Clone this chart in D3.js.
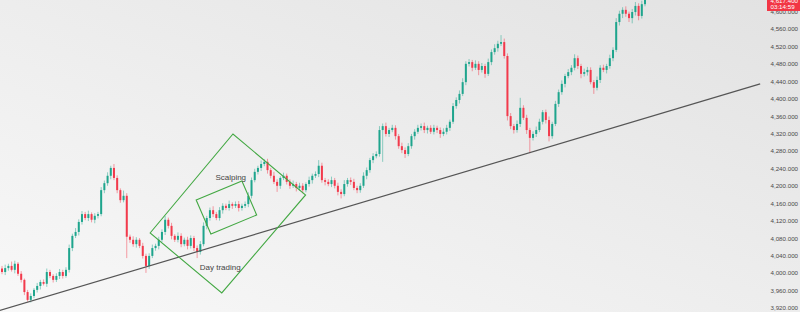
<!DOCTYPE html>
<meta charset="utf-8">
<style>
  body { margin: 0; background: #eee; }
  svg { display: block; font-family: "Liberation Sans", Arial, sans-serif; }
  .axis text { fill: #4a4a4a; font-size: 6.2px; }
  .note { fill: #444; font-size: 8px; }
  .box { fill: none; stroke: #43a843; stroke-width: 1.1; }
  .trend { stroke: #555; stroke-width: 1.2; }
</style>
<body>
<svg width="800" height="312"></svg>
<script src="https://d3js.org/d3.v7.min.js"></script>
<script>
// closing prices, one per candle (open = previous close)
var closes = [
  4002,4011,4016,4007,4021,3998,3984,3956,3938,3947,
  3961,3970,3979,3975,4002,3993,3984,3993,4002,3993,
  4007,4057,4085,4094,4117,4135,4126,4135,4122,4131,
  4135,4190,4206,4223,4241,4218,4190,4167,4177,4083,
  4076,4066,4076,4062,4039,4016,4039,4057,4062,4076,
  4094,4122,4108,4085,4076,4085,4066,4076,4062,4080,
  4057,4048,4066,4108,4126,4144,4135,4126,4144,4154,
  4149,4158,4154,4158,4149,4154,4158,4177,4213,4232,
  4241,4250,4255,4236,4223,4209,4200,4218,4223,4209,
  4200,4204,4195,4200,4190,4204,4213,4223,4227,4246,
  4213,4209,4204,4213,4200,4186,4181,4204,4213,4209,
  4195,4190,4200,4223,4236,4259,4268,4273,4328,4337,
  4319,4328,4333,4314,4291,4282,4273,4291,4314,4324,
  4333,4337,4328,4333,4324,4333,4328,4319,4324,4333,
  4347,4383,4397,4411,4438,4480,4484,4471,4480,4466,
  4475,4457,4484,4507,4516,4526,4530,4498,4360,4337,
  4328,4342,4379,4356,4328,4310,4319,4328,4347,4369,
  4351,4314,4342,4388,4415,4434,4452,4461,4471,4493,
  4475,4457,4461,4466,4438,4425,4443,4471,4466,4475,
  4493,4512,4576,4595,4604,4595,4585,4599,4613,4590,
  4617,4630
];
var firstOpen = 4010;

// wick lengths above / below the body, in points
var upWick = [
  6,8,5,10,7,4,6,3,5,6, 4,7,5,6,8,5,4,6,7,5, 6,8,5,9,6,7,5,8,4,6,
  5,7,6,8,5,9,6,4,12,6, 5,8,6,4,7,5,6,8,5,7, 6,9,5,7,4,8,6,5,7,6,
  5,6,7,8,5,6,9,5,7,6, 5,8,4,6,7,5,6,8,6,7, 5,8,6,7,5,9,6,4,7,5,
  6,8,5,7,6,4,8,5,6,13, 7,5,6,8,5,7,6,9,5,6, 7,5,6,8,6,5,7,6,9,6,
  8,5,7,6,5,8,6,7,5,6, 7,6,8,5,6,7,5,6,8,7, 5,7,6,8,9,6,7,5,8,6,
  7,5,8,6,9,7,16,8,6,7, 5,8,23,6,7,5,6,8,7,5, 6,8,5,7,6,8,5,7,6,9,
  6,5,8,7,6,5,8,6,7,5, 8,6,9,7,6,8,5,7,9,6, 8,6
];
var downWick = [
  5,7,6,4,8,5,6,7,4,6, 5,6,8,4,7,5,6,5,7,6, 4,6,7,5,8,6,5,7,6,8,
  6,5,7,6,8,5,7,6,5,49, 7,6,8,5,6,16,7,5,6,8, 5,7,6,8,5,6,7,5,8,6,
  7,14,6,5,8,6,7,5,6,8, 5,6,7,5,8,6,5,7,6,5, 6,7,5,8,6,5,14,7,5,6,
  7,5,8,6,7,5,6,8,5,7, 6,8,5,7,6,8,10,5,6,7, 5,7,6,5,8,6,7,5,6,73,
  6,7,5,8,6,7,9,5,6,8, 5,6,7,8,5,6,7,9,5,6, 7,5,6,8,5,7,6,8,5,12,
  6,9,5,7,6,8,5,6,10,7, 8,6,7,5,9,35,6,7,5,6, 8,12,6,5,7,6,8,5,7,6,
  7,10,6,8,5,14,6,7,5,8, 6,7,5,8,10,7,9,12,8,10, 6,5
];

var priceTicks = [3920,3960,4000,4040,4080,4120,4160,4200,4240,4280,
                  4320,4360,4400,4440,4480,4520,4560,4600];

// annotations in (candle index, price)
var trendIdx = [-1, 237];
var trendPrice = [3913, 4434];
var dayBox = [[46.3, 4091.6], [72.2, 4318.9], [94.9, 4178.9], [68.7, 3953.9]];
var scalpBox = [[60.7, 4167.4], [75.0, 4211.0], [79.6, 4133.0], [65.3, 4089.3]];
var labels = [{t: "Scalping", i: 71.5, p: 4219}, {t: "Day trading", i: 68.2, p: 4013}];

var W = 800, H = 312, plotW = 765;

var x = d3.scaleLinear().domain([0, 201]).range([2, 645]);
var y = d3.scaleLinear().domain([3910.2, 4626.6]).range([H, 0]);

var svg = d3.select("svg");

var grad = svg.append("defs").append("linearGradient")
    .attr("id", "bg").attr("x1", 0).attr("y1", 1).attr("x2", 1).attr("y2", 0);
grad.append("stop").attr("offset", "0%").attr("stop-color", "#f8f8f8");
grad.append("stop").attr("offset", "100%").attr("stop-color", "#e2e2e2");
svg.select("defs").append("clipPath").attr("id", "plot")
  .append("rect").attr("width", plotW).attr("height", H);

svg.append("rect").attr("width", W).attr("height", H).attr("fill", "url(#bg)");

var candles = closes.map(function(c, i) {
  var o = i ? closes[i - 1] : firstOpen;
  return {i: i, o: o, c: c,
          h: Math.max(o, c) + upWick[i],
          l: Math.min(o, c) - downWick[i]};
});

var up = "#1ea58d", down = "#f23a4c";
var g = svg.append("g").attr("clip-path", "url(#plot)");

g.selectAll(".wick").data(candles).enter().append("line")
    .attr("x1", function(d) { return x(d.i); })
    .attr("x2", function(d) { return x(d.i); })
    .attr("y1", function(d) { return y(d.h); })
    .attr("y2", function(d) { return y(d.l); })
    .attr("stroke", function(d) { return d.c >= d.o ? up : down; })
    .attr("stroke-opacity", 0.55)
    .attr("stroke-width", 0.9);

g.selectAll(".body").data(candles).enter().append("rect")
    .attr("x", function(d) { return x(d.i) - 1; })
    .attr("width", 2)
    .attr("y", function(d) { return y(Math.max(d.o, d.c)); })
    .attr("height", function(d) { return Math.max(1, Math.abs(y(d.o) - y(d.c))); })
    .attr("fill", function(d) { return d.c >= d.o ? up : down; });

g.append("line").attr("class", "trend")
    .attr("x1", x(trendIdx[0])).attr("y1", y(trendPrice[0]))
    .attr("x2", x(trendIdx[1])).attr("y2", y(trendPrice[1]));

var poly = d3.line().x(function(d) { return x(d[0]); }).y(function(d) { return y(d[1]); });
[dayBox, scalpBox].forEach(function(b) {
  g.append("path").attr("class", "box").attr("d", poly(b) + "Z");
});

g.selectAll(".note").data(labels).enter().append("text")
    .attr("class", "note")
    .attr("x", function(d) { return x(d.i); })
    .attr("y", function(d) { return y(d.p); })
    .attr("text-anchor", "middle")
    .attr("dy", "0.35em")
    .text(function(d) { return d.t; });

var axis = svg.append("g").attr("class", "axis")
    .attr("transform", "translate(770.5,0)")
    .call(d3.axisRight(y).tickValues(priceTicks).tickSize(0).tickPadding(0)
      .tickFormat(d3.format(",.3f")));
axis.select(".domain").remove();

// current price badge, sits over the top tick label
var badge = svg.append("g");
badge.append("rect").attr("x", 767).attr("y", -10).attr("width", 33).attr("height", 21)
    .attr("fill", "#f23645");
badge.append("text").attr("x", 770.5).attr("y", 2.5)
    .attr("fill", "#fff").attr("font-size", "6.2px").text("4,617.400");
badge.append("text").attr("x", 770.5).attr("y", 9)
    .attr("fill", "#fff").attr("font-size", "6.2px").text("03:14:59");
</script>
</body>
